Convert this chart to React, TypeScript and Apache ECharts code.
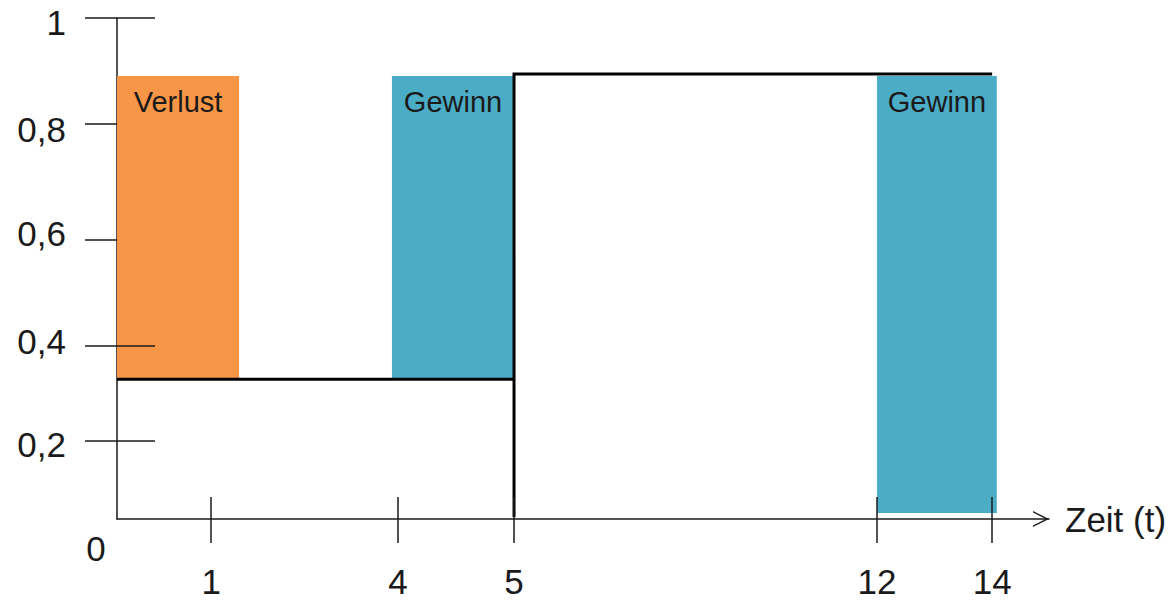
import React, { useEffect, useRef } from "react";
import * as echarts from "echarts";

// Schematic axis: positions (0..100 along x, 0..1 along y) of the drawn ticks
const xTickValues = [10.1, 30.15, 42.6, 81.55, 93.9];
const xTickLabels = ["1", "4", "5", "12", "14"];
const yTickValues = [0.156, 0.345, 0.557, 0.788, 1];
const yLabelValues = [0.148, 0.355, 0.569, 0.777, 0.991];
const yTickLabels = ["0,2", "0,4", "0,6", "0,8", "1"];
const yInsideTickValues = [0.156, 0.345, 1];

// Step function
const stepLow = [
  [0, 0.279],
  [42.6, 0.279],
];
const stepHigh = [
  [42.6, 0.004],
  [42.6, 0.888],
  [93.9, 0.888],
];

// Shaded areas: [x0, x1, y0, y1]
const areaNames = ["Verlust", "Gewinn", "Gewinn"];
const areaX0 = [0, 29.5, 81.55];
const areaX1 = [13.1, 42.6, 94.4];
const areaY0 = [0.279, 0.279, 0.012];
const areaY1 = [0.884, 0.884, 0.884];

const FONT = "'Liberation Sans', Arial, sans-serif";
const TEXT = "#1a1a1a";
const AXIS_FONT = 35;
const colorOf = (n: string) => (n === "Verlust" ? "#F79646" : "#4BACC6");

const chevron = "path://M0,16 L8,0 L16,16 L14.4,16 L8,3.2 L1.6,16 Z";

export default function App() {
  const ref = useRef<HTMLDivElement>(null);
  useEffect(() => {
    if (!ref.current) return;
    const chart = echarts.init(ref.current, null, { renderer: "svg" });
    const lookup = (vals: number[], labels: string[]) => (v: number) => {
      const i = vals.findIndex((p) => Math.abs(p - v) < 1e-6);
      return i >= 0 ? labels[i] : "";
    };
    const markData = areaNames.map((n, i) => [
      {
        name: n,
        xAxis: areaX0[i],
        yAxis: areaY0[i],
        itemStyle: { color: colorOf(n), opacity: 1 },
      },
      { xAxis: areaX1[i], yAxis: areaY1[i] },
    ]);
    chart.setOption({
      animation: false,
      backgroundColor: "#ffffff",
      grid: {
        left: 117,
        top: 18,
        width: 932,
        height: 501,
        outerBoundsMode: "none",
      },
      xAxis: [
        {
          type: "value",
          min: 0,
          max: 100,
          position: "bottom",
          axisLine: {
            onZero: false,
            lineStyle: { color: TEXT, width: 1.5 },
            symbol: ["none", chevron],
            symbolSize: [16, 16],
            symbolOffset: [0, -8],
          },
          axisTick: {
            show: true,
            length: 24,
            customValues: xTickValues,
            lineStyle: { color: TEXT, width: 1.5 },
          },
          axisLabel: {
            customValues: xTickValues,
            formatter: lookup(xTickValues, xTickLabels),
            fontSize: AXIS_FONT,
            fontFamily: FONT,
            color: TEXT,
            margin: 45,
          },
          splitLine: { show: false },
          name: "Zeit (t)",
          nameLocation: "end",
          nameGap: 16,
          nameTextStyle: {
            fontSize: AXIS_FONT,
            fontFamily: FONT,
            color: TEXT,
            padding: [22, 0, 0, 0],
          },
        },
        {
          type: "value",
          min: 0,
          max: 100,
          position: "bottom",
          z: 5,
          axisLine: { show: false, onZero: false },
          axisTick: {
            show: true,
            inside: true,
            length: 22,
            customValues: xTickValues,
            lineStyle: { color: TEXT, width: 1.5 },
          },
          axisLabel: { show: false },
          splitLine: { show: false },
        },
      ],
      yAxis: [
        {
          type: "value",
          min: 0,
          max: 1,
          position: "left",
          axisLine: { show: true, onZero: false, lineStyle: { color: TEXT, width: 1.5 } },
          axisTick: {
            show: true,
            length: 32,
            customValues: yTickValues,
            lineStyle: { color: TEXT, width: 1.5 },
          },
          axisLabel: {
            customValues: yLabelValues,
            formatter: lookup(yLabelValues, yTickLabels),
            fontSize: AXIS_FONT,
            fontFamily: FONT,
            color: TEXT,
            margin: 51,
          },
          splitLine: { show: false },
        },
        {
          type: "value",
          min: 0,
          max: 1,
          position: "left",
          z: 5,
          axisLine: { show: false, onZero: false },
          axisTick: {
            show: true,
            inside: true,
            length: 38,
            customValues: yInsideTickValues,
            lineStyle: { color: TEXT, width: 1.5 },
          },
          axisLabel: { show: false },
          splitLine: { show: false },
        },
      ],
      series: [
        {
          type: "line",
          data: [],
          silent: true,
          markArea: {
            silent: true,
            label: {
              show: true,
              position: "insideTop",
              distance: 11,
              fontSize: 29,
              fontFamily: FONT,
              color: TEXT,
            },
            data: markData,
          },
        },
        {
          type: "line",
          data: stepLow,
          symbol: "none",
          lineStyle: { color: "#000", width: 3 },
          z: 3,
        },
        {
          type: "line",
          data: stepHigh,
          symbol: "none",
          lineStyle: { color: "#000", width: 3, join: "miter" },
          z: 3,
        },
        {
          type: "scatter",
          data: [[0, 0]],
          symbolSize: 0,
          silent: true,
          itemStyle: { opacity: 1 },
          label: {
            show: true,
            position: "inside",
            offset: [-21, 29],
            formatter: "0",
            fontSize: AXIS_FONT,
            fontFamily: FONT,
            color: TEXT,
            opacity: 1,
          },
        },
      ],
    });
    return () => chart.dispose();
  }, []);
  return (
    <div
      ref={ref}
      style={{ position: "fixed", left: 0, top: 0, width: 1175, height: 601 }}
    />
  );
}
